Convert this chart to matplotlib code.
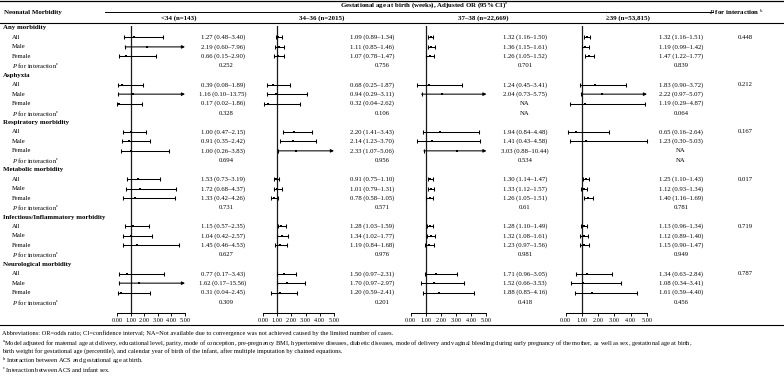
import numpy as np
import matplotlib
matplotlib.use("Agg")
import matplotlib.pyplot as plt

plt.rcParams['font.family'] = ['Liberation Serif', 'DejaVu Serif']
plt.rcParams['mathtext.fontset'] = 'custom'
plt.rcParams['mathtext.rm'] = 'Liberation Serif'
plt.rcParams['mathtext.it'] = 'Liberation Serif:italic'
plt.rcParams['mathtext.bf'] = 'Liberation Serif:bold'

nan = np.nan
groups = ["Any morbidity", "Asphyxia", "Respiratory morbidity", "Metabolic morbidity",
          "Infectious/Inflammatory morbidity", "Neurological morbidity"]
subgroups = ["All", "Male", "Female"]
panels = ["<34 (n=143)", "34\u201336 (n=2015)", "37\u201338 (n=22,669)", "\u226539 (n=53,815)"]
tick_vals = [0, 1, 2, 3, 4, 5]
tick_labels = ["0.00", "1.00", "2.00", "3.00", "4.00", "5.00"]

or_lt34 = [1.27, 2.19, 0.66, 0.39, 1.16, 0.17, 1.00, 0.91, 1.00, 1.53, 1.72, 1.33, 1.15, 1.04, 1.45, 0.77, 1.62, 0.31]
lo_lt34 = [0.48, 0.60, 0.15, 0.08, 0.10, 0.02, 0.47, 0.35, 0.26, 0.73, 0.68, 0.42, 0.57, 0.42, 0.46, 0.17, 0.17, 0.04]
hi_lt34 = [3.40, 7.96, 2.90, 1.89, 13.75, 1.86, 2.15, 2.42, 3.83, 3.19, 4.37, 4.26, 2.35, 2.57, 4.53, 3.43, 15.56, 2.45]
p_lt34 = ["0.252", "0.328", "0.694", "0.731", "0.627", "0.309"]

or_34_36 = [1.09, 1.11, 1.07, 0.68, 0.94, 0.32, 2.20, 2.14, 2.33, 0.91, 1.01, 0.78, 1.28, 1.34, 1.19, 1.50, 1.70, 1.20]
lo_34_36 = [0.89, 0.85, 0.78, 0.25, 0.29, 0.04, 1.41, 1.23, 1.07, 0.75, 0.79, 0.58, 1.03, 1.02, 0.84, 0.97, 0.97, 0.59]
hi_34_36 = [1.34, 1.46, 1.47, 1.87, 3.11, 2.62, 3.43, 3.70, 5.06, 1.10, 1.31, 1.05, 1.59, 1.77, 1.68, 2.31, 2.97, 2.41]
p_34_36 = ["0.756", "0.106", "0.956", "0.571", "0.976", "0.201"]

or_37_38 = [1.32, 1.36, 1.26, 1.24, 2.04, nan, 1.94, 1.41, 3.03, 1.30, 1.33, 1.26, 1.28, 1.32, 1.23, 1.71, 1.52, 1.88]
lo_37_38 = [1.16, 1.15, 1.05, 0.45, 0.73, nan, 0.84, 0.43, 0.88, 1.14, 1.12, 1.05, 1.10, 1.08, 0.97, 0.96, 0.66, 0.85]
hi_37_38 = [1.50, 1.61, 1.52, 3.41, 5.75, nan, 4.48, 4.58, 10.44, 1.47, 1.57, 1.51, 1.49, 1.61, 1.56, 3.05, 3.53, 4.16]
p_37_38 = ["0.701", "NA", "0.534", "0.61", "0.981", "0.418"]

or_ge39 = [1.32, 1.19, 1.47, 1.83, 2.22, 1.19, 0.65, 1.23, nan, 1.25, 1.12, 1.40, 1.13, 1.12, 1.15, 1.34, 1.08, 1.61]
lo_ge39 = [1.16, 0.99, 1.22, 0.90, 0.97, 0.29, 0.16, 0.30, nan, 1.10, 0.93, 1.16, 0.96, 0.89, 0.90, 0.63, 0.34, 0.59]
hi_ge39 = [1.51, 1.42, 1.77, 3.72, 5.07, 4.87, 2.64, 5.03, nan, 1.43, 1.34, 1.69, 1.34, 1.40, 1.47, 2.84, 3.41, 4.40]
p_ge39 = ["0.839", "0.064", "NA", "0.781", "0.949", "0.456"]

p_ga = ["0.448", "0.212", "0.167", "0.017", "0.719", "0.787"]

panel_or = [or_lt34, or_34_36, or_37_38, or_ge39]
panel_lo = [lo_lt34, lo_34_36, lo_37_38, lo_ge39]
panel_hi = [hi_lt34, hi_34_36, hi_37_38, hi_ge39]
panel_p = [p_lt34, p_34_36, p_37_38, p_ge39]

# ---------------- layout (pixels) ----------------
W, H = 784, 378
fig = plt.figure(figsize=(W / 100, H / 100), dpi=100)
bg = fig.add_axes([0, 0, 1, 1])
bg.set_xlim(0, W)
bg.set_ylim(H, 0)
bg.axis('off')

row0, drow = 28.0, 9.45
def rowy(k):
    return row0 + drow * k

FS = 4.75
FSB = 4.95
panel_x = [(117, 185), (263, 334), (410.5, 486.5), (565.5, 647)]
text_cx = [223, 372, 525, 681]
p_cx = [226, 382, 525, 681]
head_cx = [179, 322, 483, 628]
pint_cx = 745
axis_y = 313.0
top_y = 26.0
LW = 0.75

# rules
bg.plot([0, W], [1, 1], color='black', lw=0.9)
bg.plot([105, 713], [12.3, 12.3], color='black', lw=0.7)
bg.plot([0, W], [22.7, 22.7], color='black', lw=0.8)
bg.plot([0, W], [325, 325], color='black', lw=0.8)

# headers
bg.text(4, 12.7, "Neonatal Morbidity", fontsize=FSB, fontweight='bold', ha='left', va='center')
bg.text(424, 5.2, r"Gestational age at birth (weeks), Adjusted OR (95% CI)$^{\mathrm{a}}$",
        fontsize=FSB, fontweight='bold', ha='center', va='center')
bg.text(736, 12.3, r"$\mathbf{\mathit{P}}$ for interaction $^{\mathrm{b}}$", fontsize=FSB,
        fontweight='bold', ha='center', va='center')
for i, lab in enumerate(panels):
    bg.text(head_cx[i], 17.8, lab, fontsize=FSB, fontweight='bold', ha='center', va='center')

# row labels + texts
for g, gname in enumerate(groups):
    base = g * 5
    bg.text(3, rowy(base), gname, fontsize=FSB, fontweight='bold', ha='left', va='center')
    for j, s in enumerate(subgroups):
        bg.text(12, rowy(base + 1 + j), s, fontsize=FS, ha='left', va='center')
    bg.text(12, rowy(base + 4), r"$\it{P}$ for interaction$^{\mathrm{c}}$", fontsize=FS,
            ha='left', va='center')
    bg.text(pint_cx, rowy(base + 1), p_ga[g], fontsize=FS, ha='center', va='center')
    for p in range(4):
        for j in range(3):
            idx = g * 3 + j
            o = panel_or[p][idx]
            if np.isnan(o):
                s = "NA"
            else:
                s = "%.2f (%.2f\u2013%.2f)" % (o, panel_lo[p][idx], panel_hi[p][idx])
            bg.text(text_cx[p], rowy(base + 1 + j), s, fontsize=FS, ha='center', va='center')
        bg.text(p_cx[p], rowy(base + 4), panel_p[p][g], fontsize=FS, ha='center', va='center')

# forest panels
ylo = (axis_y - row0) / drow
yhi = (top_y - row0) / drow
for p in range(4):
    x0, x1 = panel_x[p]
    ax = fig.add_axes([x0 / W, 1 - axis_y / H, (x1 - x0) / W, (axis_y - top_y) / H])
    ax.patch.set_alpha(0)
    ax.set_xlim(0, 5)
    ax.set_ylim(ylo, yhi)
    for sp in ['top', 'right', 'left']:
        ax.spines[sp].set_visible(False)
    ax.spines['bottom'].set_linewidth(0.75)
    ax.set_yticks([])
    ax.set_xticks(tick_vals)
    ax.set_xticklabels(tick_labels, fontsize=4.5)
    ax.tick_params(axis='x', length=2.2, width=0.65, pad=1.2)
    ax.axvline(1, color='#1a1a1a', lw=0.9)
    for g in range(6):
        for j in range(3):
            idx = g * 3 + j
            o, lo, hi = panel_or[p][idx], panel_lo[p][idx], panel_hi[p][idx]
            if np.isnan(o):
                continue
            y = g * 5 + 1 + j
            ax.plot([lo], [y], marker='|', ms=2.8, mew=LW, color='black', clip_on=False)
            if hi > 5.05:
                ax.annotate('', xy=(5, y), xytext=(lo, y),
                            arrowprops=dict(arrowstyle='-|>', lw=LW, color='black',
                                            mutation_scale=4.5, shrinkA=0, shrinkB=0),
                            annotation_clip=False)
            else:
                h = min(hi, 5)
                ax.plot([lo, h], [y, y], color='black', lw=LW, clip_on=False)
                ax.plot([h], [y], marker='|', ms=2.8, mew=LW, color='black', clip_on=False)
            ax.plot([o], [y], marker='s', ms=1.9, color='black', mew=0, clip_on=False)

# footnotes
FN = 4.6
bg.text(2, 333.5, "Abbreviations: OR=odds ratio; CI=confidence interval; NA=Not available due to "
        "convergence was not achieved caused by the limited number of cases.", fontsize=FN,
        ha='left', va='center')
bg.text(2, 343.5, r"$^{\mathrm{a}}$Model adjusted for maternal age at delivery, educational level, parity, "
        "mode of conception, pre-pregnancy BMI, hypertensive diseases, diabetic diseases, mode of delivery "
        "and vaginal bleeding during early pregnancy of the mother, as well as sex, gestational age at birth,",
        fontsize=FN, ha='left', va='center')
bg.text(2, 351.5, "birth weight for gestational age (percentile), and calendar year of birth of the infant, "
        "after multiple imputation by chained equations.", fontsize=FN, ha='left', va='center')
bg.text(2, 360.5, r"$^{\mathrm{b}}$ Interaction between ACS and gestational age at birth.", fontsize=FN,
        ha='left', va='center')
bg.text(2, 369.5, r"$^{\mathrm{c}}$ Interaction between ACS and infant sex.", fontsize=FN,
        ha='left', va='center')

fig.savefig("out.png", dpi=100)
